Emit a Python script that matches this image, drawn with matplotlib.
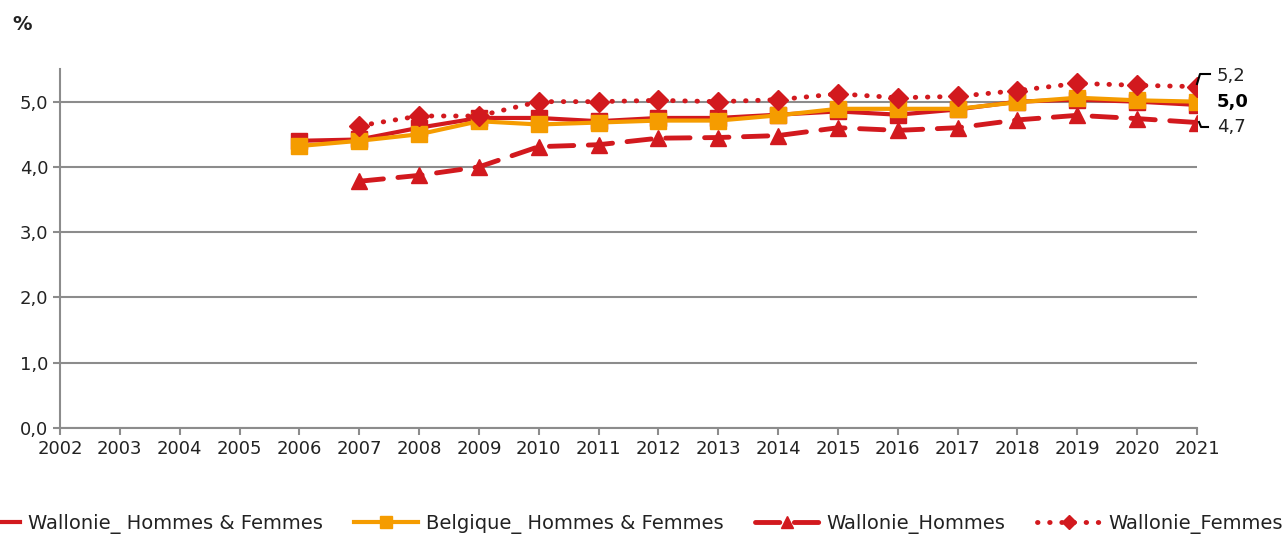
import matplotlib
matplotlib.use("Agg")
import matplotlib.pyplot as plt
from matplotlib.ticker import FuncFormatter

# ----------------------------------------------------------------------
# Data
# ----------------------------------------------------------------------
years_all = list(range(2002, 2022))

years_hf = list(range(2006, 2022))
wallonie_hf = [4.40, 4.42, 4.60, 4.75, 4.75, 4.70, 4.75, 4.75, 4.80,
               4.85, 4.80, 4.88, 5.00, 5.03, 5.00, 4.95]
belgique_hf = [4.32, 4.40, 4.50, 4.70, 4.65, 4.68, 4.71, 4.71, 4.79,
               4.89, 4.89, 4.89, 4.99, 5.06, 5.02, 5.00]

years_hm = list(range(2007, 2022))
wallonie_h = [3.78, 3.87, 4.00, 4.31, 4.34, 4.44, 4.45, 4.48, 4.60,
              4.56, 4.60, 4.72, 4.79, 4.74, 4.68]
wallonie_f = [4.63, 4.78, 4.78, 5.00, 5.00, 5.02, 5.00, 5.03, 5.12,
              5.06, 5.08, 5.17, 5.28, 5.25, 5.23]

labels = ["Wallonie_ Hommes & Femmes", "Belgique_ Hommes & Femmes",
          "Wallonie_Hommes", "Wallonie_Femmes"]
end_labels = ["5,2", "5,0", "4,7"]

# ----------------------------------------------------------------------
# Styling
# ----------------------------------------------------------------------
RED = "#D2191E"
ORANGE = "#F59C00"
GRID = "#8C8C8C"
TEXT = "#222222"
W, H = 1288, 535

plt.rcParams["font.family"] = "DejaVu Sans"


def fx(px):
    return px / W


def fy(py):
    return 1 - py / H


fig = plt.figure(figsize=(W / 100, H / 100), dpi=100)
ax = fig.add_axes([fx(60), fy(428), fx(1197 - 60), (428 - 69) / H])

ax.plot(years_hf, wallonie_hf, color=RED, lw=3, marker="s", ms=11.5,
        label=labels[0], zorder=3)
ax.plot(years_hf, belgique_hf, color=ORANGE, lw=3, marker="s", ms=11.5,
        label=labels[1], zorder=4)
ax.plot(years_hm, wallonie_h, color=RED, lw=3.5, ls=(0, (5, 3)), marker="^",
        ms=11, label=labels[2], zorder=3.5, dash_capstyle="round")
ax.plot(years_hm, wallonie_f, color=RED, lw=3.5, ls=(0, (0.1, 2.4)), marker="D",
        ms=10, label=labels[3], zorder=5, dash_capstyle="round")

ax.set_xlim(2002, 2021)
ax.set_ylim(0, 5.5)
ax.set_xticks(years_all)
ax.set_yticks([0, 1, 2, 3, 4, 5])
ax.yaxis.set_major_formatter(FuncFormatter(lambda v, p: f"{v:.1f}".replace(".", ",")))

ax.grid(axis="y", color=GRID, lw=1.5)
ax.set_axisbelow(True)
for side in ["top", "right"]:
    ax.spines[side].set_visible(False)
for side in ["left", "bottom"]:
    ax.spines[side].set_color(GRID)
    ax.spines[side].set_linewidth(1.5)
ax.tick_params(axis="both", colors=GRID, width=1.5, length=5, labelsize=13,
               labelcolor=TEXT)

fig.text(fx(12), fy(25), "%", fontsize=14, fontweight="bold",
         color=TEXT, va="center")

# end-of-series labels with small leader lines
fig.text(fx(1217), fy(76), end_labels[0], fontsize=13, color=TEXT, va="center")
fig.text(fx(1217), fy(102), end_labels[1], fontsize=13, fontweight="bold",
         color="black", va="center")
fig.text(fx(1217), fy(127), end_labels[2], fontsize=13, color=TEXT, va="center")
fig.add_artist(plt.Line2D([fx(1197), fx(1200), fx(1210)],
                          [fy(84), fy(74), fy(74)], color="black", lw=1.5))
fig.add_artist(plt.Line2D([fx(1199), fx(1201), fx(1208)],
                          [fy(122), fy(127), fy(127)], color="black", lw=1.5))

fig.legend(loc="center", bbox_to_anchor=(0.481, fy(524)), ncol=4,
           frameon=False, fontsize=14, handlelength=3.3, markerscale=0.75,
           columnspacing=1.6, handletextpad=0.4, labelcolor=TEXT)

fig.savefig("out.png", dpi=100)
